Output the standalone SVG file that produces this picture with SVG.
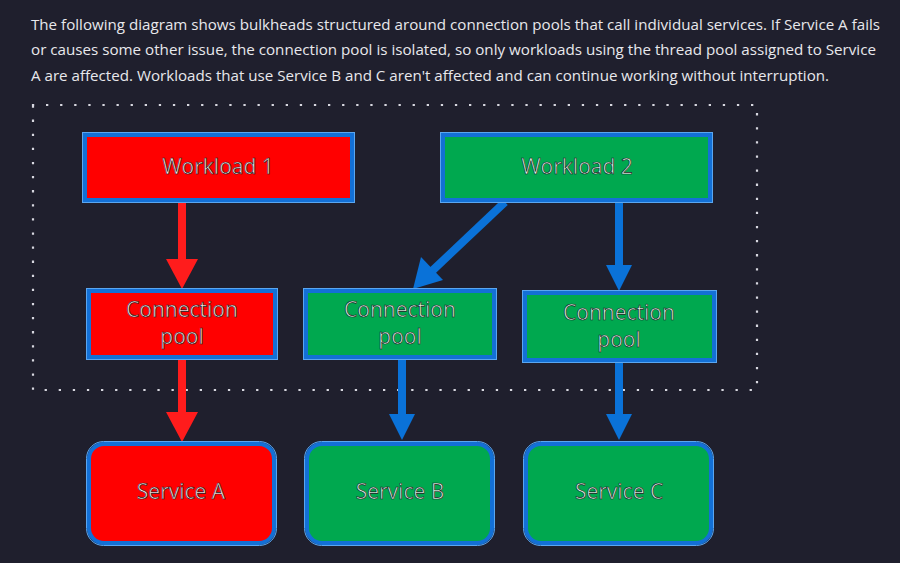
<svg xmlns="http://www.w3.org/2000/svg" width="900" height="563" viewBox="0 0 900 563">
<defs>
<style>
.para{font-family:"Open Sans","Liberation Sans",sans-serif;font-size:15px;fill:#e8e8ec}
.box{stroke:#1370d6;stroke-width:4}
.edge{fill:none;stroke:#5aa6f0;stroke-width:1}
.red{fill:#ff0000}
.green{fill:#00a84f}
.lbl{font-family:"Open Sans","Liberation Sans",sans-serif;font-size:21px;text-anchor:middle;stroke:#1a1a22;stroke-width:0.65px}
.lr{fill:#ffe6e6}
.lg{fill:#dcf6e6}
.ra{stroke:#ff1c1c;stroke-width:8;fill:none}
.ba{stroke:#0a72d8;stroke-width:8;fill:none}
</style>
</defs>
<rect width="900" height="563" fill="#1f1f2d"/>
<g id="caption">
<text class="para" x="31" y="30" textLength="849" lengthAdjust="spacingAndGlyphs">The following diagram shows bulkheads structured around connection pools that call individual services. If Service A fails</text>
<text class="para" x="31" y="55" textLength="845" lengthAdjust="spacingAndGlyphs">or causes some other issue, the connection pool is isolated, so only workloads using the thread pool assigned to Service</text>
<text class="para" x="31" y="81" textLength="798" lengthAdjust="spacingAndGlyphs">A are affected. Workloads that use Service B and C aren't affected and can continue working without interruption.</text>
</g>
<rect id="bulkhead" x="33" y="105" width="724" height="285" fill="none" stroke="#d8d8e0" stroke-width="2.2" stroke-dasharray="0.1 14" stroke-linecap="square"/>
<g id="connectors">
<line class="ra" x1="182" y1="202" x2="182" y2="260"/><path d="M166,259 L198,259 L182,289 Z" fill="#ff1c1c"/>
<line class="ra" x1="182" y1="359" x2="182" y2="413"/><path d="M166,412 L198,412 L182,442 Z" fill="#ff1c1c"/>
<line class="ba" x1="505" y1="202" x2="432" y2="271"/><path d="M421,257 L443,280 L413,289 Z" fill="#0a72d8"/>
<line class="ba" x1="619" y1="202" x2="619" y2="266"/><path d="M606,265 L632,265 L619,291 Z" fill="#0a72d8"/>
<line class="ba" x1="402" y1="359" x2="402" y2="415"/><path d="M389,414 L415,414 L402,440 Z" fill="#0a72d8"/>
<line class="ba" x1="619" y1="362" x2="619" y2="415"/><path d="M606,414 L632,414 L619,440 Z" fill="#0a72d8"/>
</g>
<g id="workload1">
<rect class="box red" x="85" y="135" width="267" height="65"/><rect class="edge" x="82.5" y="132.5" width="272" height="70"/>
<text class="lbl lr" x="218" y="174">Workload 1</text>
</g>
<g id="workload2">
<rect class="box green" x="443" y="135" width="267" height="65"/><rect class="edge" x="440.5" y="132.5" width="272" height="70"/>
<text class="lbl lg" x="577" y="174">Workload 2</text>
</g>
<g id="pool1">
<rect class="box red" x="89" y="291" width="186" height="66"/><rect class="edge" x="86.5" y="288.5" width="191" height="71"/>
<text class="lbl lr" x="182" y="317">Connection</text><text class="lbl lr" x="182" y="344">pool</text>
</g>
<g id="pool2">
<rect class="box green" x="306" y="291" width="188" height="66"/><rect class="edge" x="303.5" y="288.5" width="193" height="71"/>
<text class="lbl lg" x="400" y="317">Connection</text><text class="lbl lg" x="400" y="344">pool</text>
</g>
<g id="pool3">
<rect class="box green" x="525" y="293" width="189" height="67"/><rect class="edge" x="522.5" y="290.5" width="194" height="72"/>
<text class="lbl lg" x="619" y="320">Connection</text><text class="lbl lg" x="619" y="347">pool</text>
</g>
<g id="serviceA">
<rect class="box red" x="89" y="444" width="185" height="99" rx="15"/><rect class="edge" x="86.5" y="441.5" width="190" height="104" rx="17"/>
<text class="lbl lr" x="181" y="499">Service A</text>
</g>
<g id="serviceB">
<rect class="box green" x="307" y="444" width="185" height="99" rx="15"/><rect class="edge" x="304.5" y="441.5" width="190" height="104" rx="17"/>
<text class="lbl lg" x="400" y="499">Service B</text>
</g>
<g id="serviceC">
<rect class="box green" x="526" y="444" width="185" height="99" rx="15"/><rect class="edge" x="523.5" y="441.5" width="190" height="104" rx="17"/>
<text class="lbl lg" x="619" y="499">Service C</text>
</g>
</svg>
